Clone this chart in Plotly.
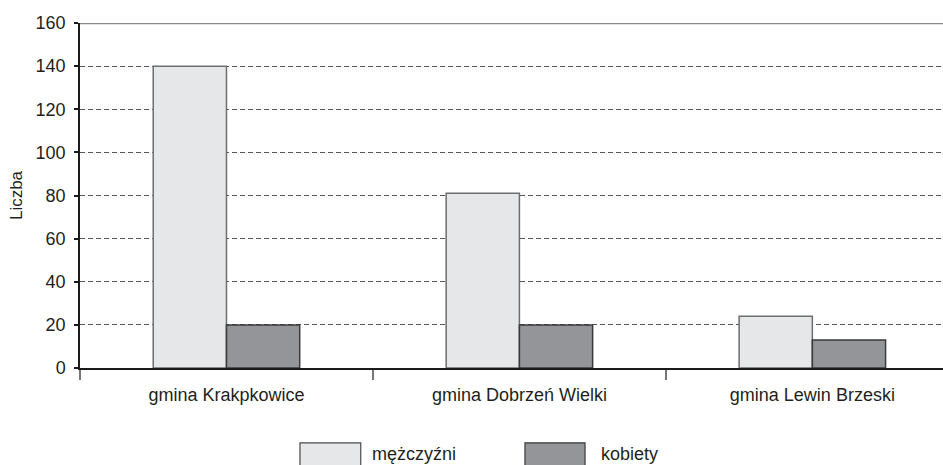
import plotly.graph_objects as go

categories = ["gmina Krakpkowice", "gmina Dobrzeń Wielki", "gmina Lewin Brzeski"]
men = [140, 81, 24]
women = [20, 20, 13]
series_names = ["mężczyźni", "kobiety"]
y_ticks = [0, 20, 40, 60, 80, 100, 120, 140, 160]

FONT = "Liberation Sans, Arial, sans-serif"
TXT = "#231f20"
MEN_FILL = "#e6e7e8"
MEN_LINE = "#6d6e70"
WOMEN_FILL = "#939598"
WOMEN_LINE = "#3a3a3a"

fig = go.Figure()
fig.add_trace(go.Bar(x=categories, y=men, name=series_names[0],
                     marker=dict(color=MEN_FILL, line=dict(color=MEN_LINE, width=1.5))))
fig.add_trace(go.Bar(x=categories, y=women, name=series_names[1],
                     marker=dict(color=WOMEN_FILL, line=dict(color=WOMEN_LINE, width=1.5))))

fig.update_layout(
    width=943, height=465,
    margin=dict(l=80, r=0, t=22.7, b=96.7),
    paper_bgcolor="white", plot_bgcolor="white",
    barmode="group", bargap=0.5, bargroupgap=0,
    showlegend=False,
    font=dict(family=FONT, size=18, color=TXT),
)
fig.update_xaxes(
    type="category", range=[-0.5, 2.446],
    showline=True, linecolor="#1a1a1a", linewidth=1.5,
    showgrid=False, zeroline=False,
    ticks="outside", tickson="boundaries", ticklen=10, tickwidth=2, tickcolor="#777777",
    tickfont=dict(family=FONT, size=18, color=TXT),
    ticklabelstandoff=10,
)
fig.update_yaxes(
    range=[0, 160], tickvals=y_ticks,
    showline=True, linecolor="#1a1a1a", linewidth=1.5,
    showgrid=True, gridcolor="#555555", gridwidth=1, griddash="5px,3px",
    zeroline=False,
    ticks="outside", ticklen=4, tickwidth=1.5, tickcolor="#1a1a1a",
    tickfont=dict(family=FONT, size=18, color=TXT),
    ticklabelstandoff=5,
)

# solid top line at 160
fig.add_shape(type="line", xref="paper", yref="y", x0=0, x1=1, y0=160, y1=160,
              line=dict(color="#8a8a8a", width=2.5), layer="above")

# axis title
fig.add_annotation(text="Liczba", xref="paper", yref="paper", x=-0.0735, y=0.5,
                   textangle=-90, showarrow=False, xanchor="center", yanchor="middle",
                   font=dict(family=FONT, size=17, color=TXT))

# legend drawn with shapes + text
leg_y0, leg_y1 = -0.217, -0.30
fig.add_shape(type="rect", xref="paper", yref="paper", x0=0.2549, x1=0.3253,
              y0=leg_y1, y1=leg_y0, fillcolor=MEN_FILL, line=dict(color="#4a4a4a", width=1.2))
fig.add_shape(type="rect", xref="paper", yref="paper", x0=0.5156, x1=0.5852,
              y0=leg_y1, y1=leg_y0, fillcolor=WOMEN_FILL, line=dict(color="#3a3a3a", width=1.2))
fig.add_annotation(text=series_names[0], xref="paper", yref="paper", x=0.336, y=-0.248,
                   showarrow=False, xanchor="left", yanchor="middle",
                   font=dict(family=FONT, size=18, color=TXT))
fig.add_annotation(text=series_names[1], xref="paper", yref="paper", x=0.6014, y=-0.248,
                   showarrow=False, xanchor="left", yanchor="middle",
                   font=dict(family=FONT, size=18, color=TXT))

fig.write_html("out.html", config={"displayModeBar": False},
               post_script="document.body.style.margin='0';document.body.style.overflow='hidden';")
